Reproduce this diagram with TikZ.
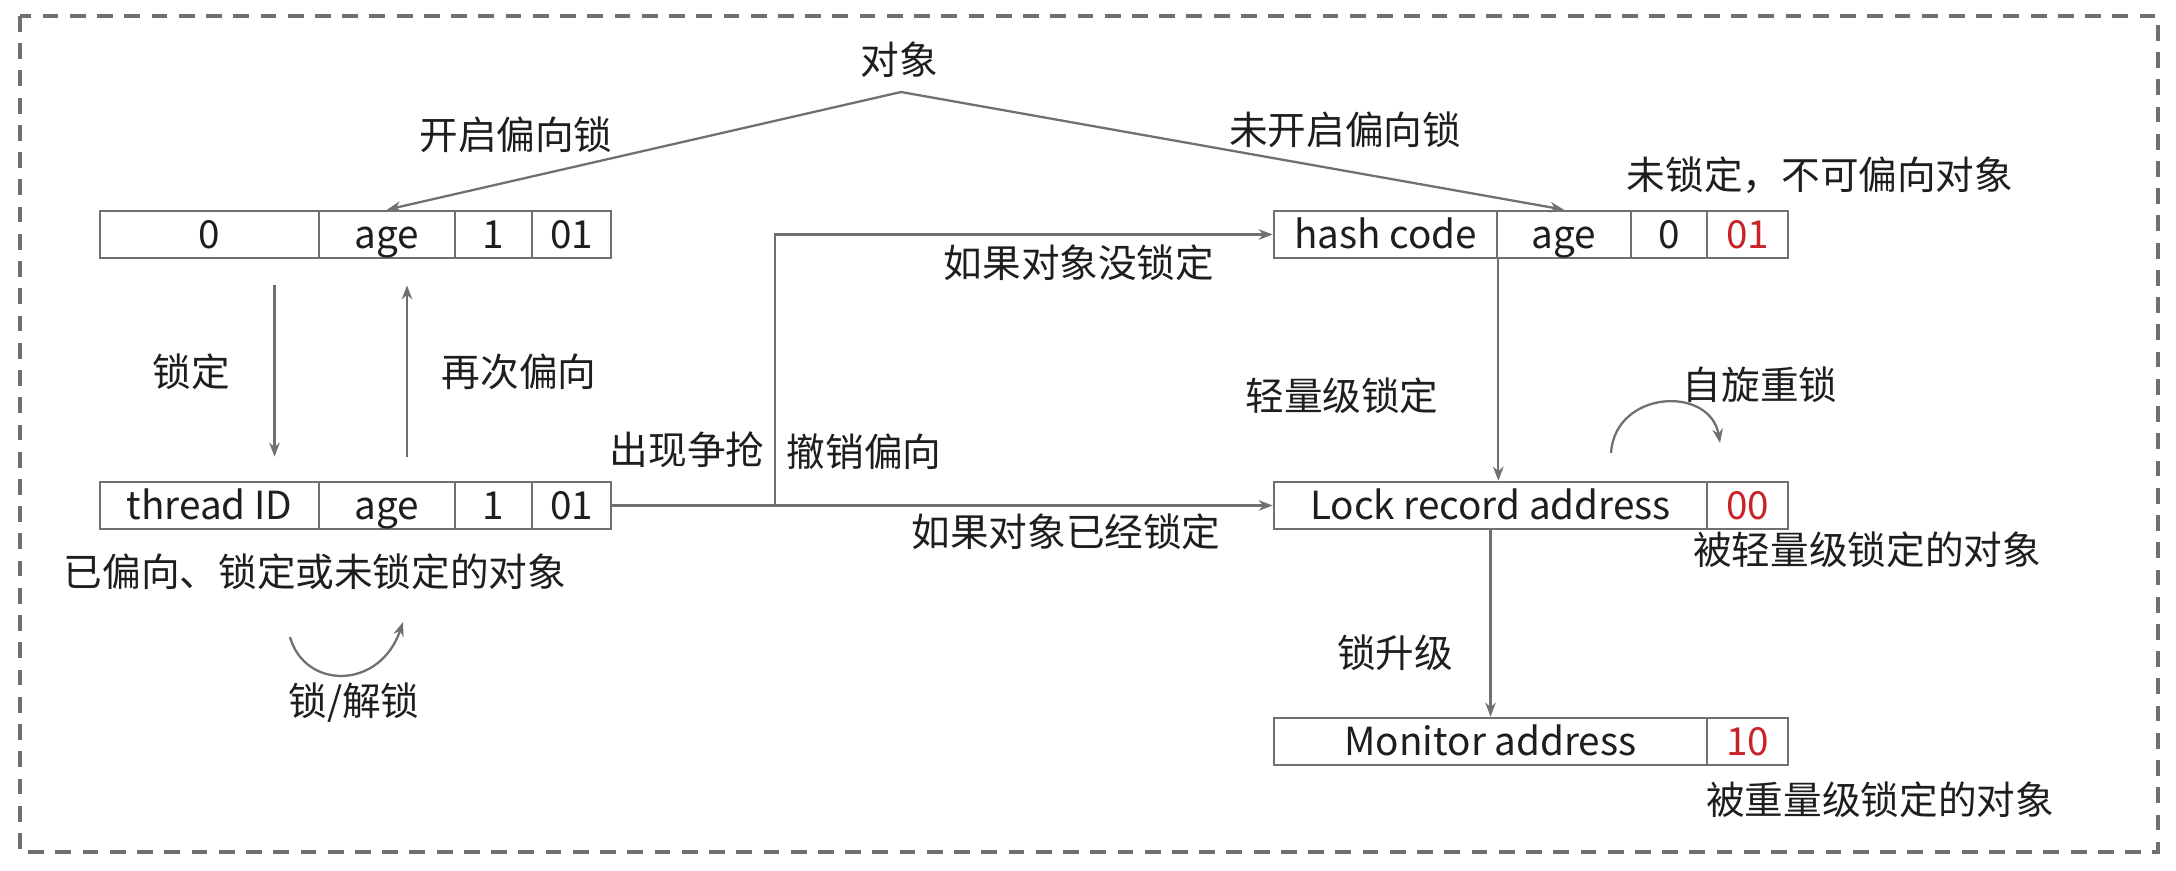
\documentclass[tikz,border=0pt]{standalone}
\usepackage{fontspec}
\setmainfont{Noto Sans CJK SC}
\usepackage{tikz}
\definecolor{lockgray}{RGB}{112, 112, 112}
\definecolor{lockred}{RGB}{200, 35, 40}
\definecolor{lockink}{RGB}{30, 30, 30}
\usetikzlibrary{arrows.meta,positioning,calc}

\begin{document}
\begin{tikzpicture}[x=0.02cm, y=-0.02cm]
    \tikzstyle{cell} = [rectangle, draw=lockgray, line width=1.5pt, minimum height=0.94cm,
                        inner sep=0pt, text height=17pt, text depth=1pt,
                        text=lockink, font=\fontsize{22}{26}\selectfont]
    \tikzstyle{tag} = [cell, text=lockred]
    \tikzstyle{note} = [inner sep=0pt, text=lockink, font=\fontsize{22}{26}\selectfont]
    \tikzstyle{link} = [draw=lockgray, line width=1.3pt]
    \tikzstyle{arr} = [link, -{Stealth[length=8pt, width=6pt]}]

    \useasboundingbox (0,0) rectangle (2176,870);
    \draw[lockgray, line width=1.9pt, dash pattern=on 9pt off 6.5pt] (20,16) rectangle (2158,852);

    % Biased header
    \node[cell, minimum width=4.38cm] (b0) at (209.5,234.5) {0};
    \node[cell, minimum width=2.72cm] (b1) at (387,234.5) {age};
    \node[cell, minimum width=1.54cm] (b2) at (493.5,234.5) {1};
    \node[cell, minimum width=1.58cm] (b3) at (571.5,234.5) {01};

    % Thread header
    \node[cell, minimum width=4.38cm] (t0) at (209.5,505.5) {thread ID};
    \node[cell, minimum width=2.72cm] (t1) at (387,505.5) {age};
    \node[cell, minimum width=1.54cm] (t2) at (493.5,505.5) {1};
    \node[cell, minimum width=1.58cm] (t3) at (571.5,505.5) {01};

    % Hash header
    \node[cell, minimum width=4.46cm] (h0) at (1385.5,234.5) {hash code};
    \node[cell, minimum width=2.68cm] (h1) at (1564,234.5) {age};
    \node[cell, minimum width=1.52cm] (h2) at (1669,234.5) {0};
    \node[tag, minimum width=1.62cm] (h3) at (1747.5,234.5) {01};

    % Lock record / monitor
    \node[cell, minimum width=8.66cm] (l0) at (1490.5,505.5) {Lock record address};
    \node[tag, minimum width=1.62cm] (l1) at (1747.5,505.5) {00};
    \node[cell, minimum width=8.66cm] (m0) at (1490.5,741.5) {Monitor address};
    \node[tag, minimum width=1.62cm] (m1) at (1747.5,741.5) {10};

    % Labels
    \node[note] (obj) at (899,60) {对象};
    \node[note] at (516,135) {开启偏向锁};
    \node[note] at (1345,130) {未开启偏向锁};
    \node[note] at (1820,175) {未锁定，不可偏向对象};
    \node[note] at (191,372) {锁定};
    \node[note] at (519,372) {再次偏向};
    \node[note] at (687,450) {出现争抢};
    \node[note] at (864,452) {撤销偏向};
    \node[note] at (1079,263) {如果对象没锁定};
    \node[note] at (1066,532) {如果对象已经锁定};
    \node[note] at (1342,396) {轻量级锁定};
    \node[note] at (1760,385) {自旋重锁};
    \node[note] at (1867,550) {被轻量级锁定的对象};
    \node[note] at (1395,653) {锁升级};
    \node[note] at (1880,800) {被重量级锁定的对象};
    \node[note] at (315,572) {已偏向、锁定或未锁定的对象};
    \node[note] at (354,703) {锁/解锁};

    % Connections
    \coordinate (apex) at (901,92);
    \draw[arr] (apex) -- (b1.north);
    \draw[arr] (apex) -- (h1.north);

    \draw[arr] ($(b0.south)+(65,26)$) -- ($(t0.north)+(65,-24)$);
    \draw[arr] ($(t1.north)+(20,-24)$) -- ($(b1.south)+(20,26)$);

    \coordinate (fork) at (775,505.5);
    \draw[arr] (t3.east) -- (l0.west);
    \draw[arr] (fork) |- (h0.west);

    \draw[arr] (h0.south east) -- (h0.south east |- l0.north);
    \draw[arr] (l0.south) -- (m0.north);

    % Loops
    \coordinate (u1) at (290,637);
    \coordinate (u2) at (403,622);
    \draw[arr] (u1) .. controls (305,690) and (380,690) .. (u2);
    \coordinate (s1) at (1611,453);
    \coordinate (s2) at (1720,443);
    \draw[arr] (s1) .. controls (1615,390) and (1710,385) .. (s2);
\end{tikzpicture}
\end{document}
